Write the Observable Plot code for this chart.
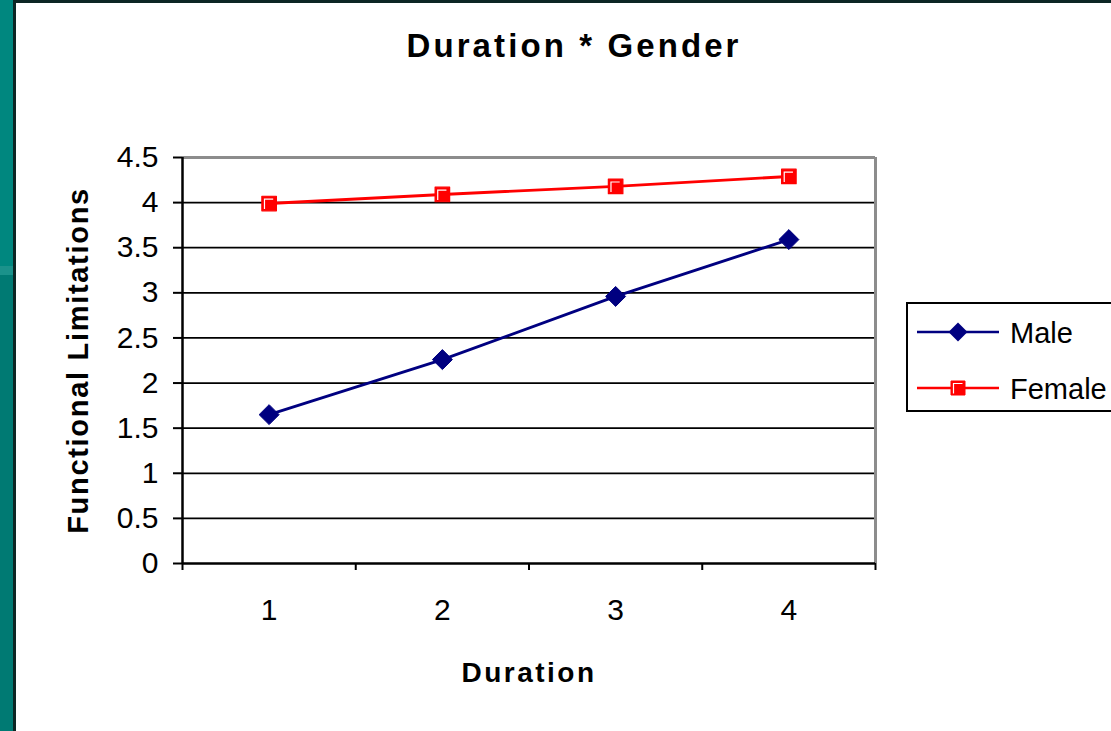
<!DOCTYPE html>
<html>
<head>
<meta charset="utf-8">
<script src="https://cdn.jsdelivr.net/npm/d3@7"></script>
<script src="https://cdn.jsdelivr.net/npm/@observablehq/plot@0.6"></script>
<style>
  html, body { margin: 0; padding: 0; background: #ffffff; }
  #page { position: relative; width: 1111px; height: 731px; overflow: hidden; background: #ffffff; }
  .strip-top { position: absolute; left: 0; top: 0; width: 13px; height: 266px; background: #00877f; }
  .strip-band { position: absolute; left: 0; top: 266px; width: 13px; height: 9px; background: #1b928b; }
  .strip-bottom { position: absolute; left: 0; top: 275px; width: 13px; height: 456px; background: #007a73; }
  .edge-left { position: absolute; left: 13px; top: 0; width: 3px; height: 731px; background: #0c2624; }
  .edge-top { position: absolute; left: 13px; top: 0; width: 1098px; height: 3px; background: #0c2624; }
  #chart { position: absolute; left: 16px; top: 3px; }
  #legend { position: absolute; left: 906px; top: 302px; width: 230px; height: 106px;
            border: 2px solid #000; background: #fff; }
</style>
</head>
<body>
<div id="page">
  <div class="strip-top"></div>
  <div class="strip-band"></div>
  <div class="strip-bottom"></div>
  <div class="edge-left"></div>
  <div class="edge-top"></div>
  <div id="chart"></div>
  <div id="legend"></div>
</div>
<script>
// ---- data ----
const durations = [1, 2, 3, 4];
const male = [1.65, 2.26, 2.96, 3.59];
const female = [3.99, 4.09, 4.18, 4.29];
const series = ["Male", "Female"];
const seriesColors = ["#000080", "#ff0000"];
const yTicks = [0, 0.5, 1, 1.5, 2, 2.5, 3, 3.5, 4, 4.5];
const bandEdges = [0.5, 1.5, 2.5, 3.5, 4.5];
const titleText = "Duration * Gender";
const xLabel = "Duration";
const yLabel = "Functional Limitations";

const rows = durations.flatMap((d, i) => [
  {duration: d, gender: "Male", value: male[i]},
  {duration: d, gender: "Female", value: female[i]}
]);
const maleRows = rows.filter(r => r.gender === "Male");
const femaleRows = rows.filter(r => r.gender === "Female");

// white "glint" inside the Excel-style square marker
const glint = {
  draw(context, size) {
    const w = Math.sqrt(size);
    context.moveTo(-w * 0.32, w * 0.38);
    context.lineTo(-w * 0.32, -w * 0.3);
    context.lineTo(w * 0.28, -w * 0.3);
  }
};

const font = "'Liberation Sans', Arial, sans-serif";

const chart = Plot.plot({
  width: 1095,
  height: 728,
  marginLeft: 166,
  marginRight: 236,
  marginTop: 154,
  marginBottom: 168,
  x: {type: "linear", domain: [0.5, 4.5]},
  y: {domain: [0, 4.5]},
  color: {domain: series, range: seriesColors},
  style: {fontFamily: font, background: "transparent", color: "#000", overflow: "visible"},
  marks: [
    Plot.ruleY(yTicks.filter(v => v > 0 && v < 4.5), {stroke: "#000", strokeWidth: 1.7}),
    Plot.ruleY([4.5], {stroke: "#8c8c8c", strokeWidth: 3}),
    Plot.ruleX([4.5], {stroke: "#8c8c8c", strokeWidth: 3}),
    Plot.ruleX([0.5], {stroke: "#000", strokeWidth: 2.5}),
    Plot.ruleY([0], {stroke: "#000", strokeWidth: 2.5}),
    Plot.axisY({ticks: yTicks, tickSize: 9, tickPadding: 15, fontSize: 30, strokeWidth: 2,
                tickFormat: d => String(d), label: null}),
    Plot.axisX({ticks: bandEdges, tickSize: 7, tickFormat: () => "", strokeWidth: 2, label: null}),
    Plot.axisX({ticks: durations, tickSize: 0, tickPadding: 35, fontSize: 30,
                tickFormat: d => String(d), label: null}),
    Plot.line(rows, {x: "duration", y: "value", z: "gender", stroke: "gender", strokeWidth: 2.9}),
    Plot.dot(maleRows, {x: "duration", y: "value", symbol: "diamond2", r: 9,
                        fill: "#000080", stroke: "#000080", strokeWidth: 1}),
    Plot.dot(femaleRows, {x: "duration", y: "value", symbol: "square", r: 8.2,
                          fill: "#ff0000", stroke: "#ff0000", strokeWidth: 1.2, strokeLinejoin: "round"}),
    Plot.dot(femaleRows, {x: "duration", y: "value", symbol: glint, r: 8.2,
                          fill: "none", stroke: "#ffffff", strokeWidth: 1.2}),
    Plot.text([titleText], {frameAnchor: "top", textAnchor: "middle", dx: 45, dy: -101,
                            lineAnchor: "bottom", fontSize: 33, fontWeight: "bold"}),
    Plot.text([xLabel], {frameAnchor: "bottom", textAnchor: "middle", dx: 0, dy: 118,
                         lineAnchor: "bottom", fontSize: 28, fontWeight: "bold"}),
    Plot.text([yLabel], {frameAnchor: "left", textAnchor: "middle", dx: -95, rotate: -90,
                         lineAnchor: "bottom", fontSize: 29, fontWeight: "bold"})
  ]
});
document.getElementById("chart").appendChild(chart);

// letter spacing to match the wide, spaced PowerPoint rendering
const spacing = {[titleText]: 3.1, [xLabel]: 2.5, [yLabel]: 1.7};
chart.querySelectorAll("text").forEach(t => {
  if (spacing[t.textContent] != null) t.style.letterSpacing = spacing[t.textContent] + "px";
});

// ---- legend ----
const ns = "http://www.w3.org/2000/svg";
const lg = document.createElementNS(ns, "svg");
lg.setAttribute("width", 230);
lg.setAttribute("height", 106);
lg.style.fontFamily = font;
const legendRows = [
  {name: series[0], color: seriesColors[0], y: 28, sym: "diamond"},
  {name: series[1], color: seriesColors[1], y: 84, sym: "square"}
];
legendRows.forEach(r => {
  const line = document.createElementNS(ns, "line");
  line.setAttribute("x1", 9); line.setAttribute("x2", 91);
  line.setAttribute("y1", r.y); line.setAttribute("y2", r.y);
  line.setAttribute("stroke", r.color); line.setAttribute("stroke-width", 2.6);
  lg.appendChild(line);
  const p = document.createElementNS(ns, "path");
  if (r.sym === "diamond") {
    p.setAttribute("d", `M50,${r.y - 9.5}L59.5,${r.y}L50,${r.y + 9.5}L40.5,${r.y}Z`);
    p.setAttribute("fill", r.color);
    lg.appendChild(p);
  } else {
    p.setAttribute("d", `M43,${r.y - 7}h14v14h-14Z`);
    p.setAttribute("fill", r.color);
    p.setAttribute("stroke", r.color);
    p.setAttribute("stroke-linejoin", "round");
    lg.appendChild(p);
    const g = document.createElementNS(ns, "path");
    g.setAttribute("d", `M45.5,${r.y + 5.5}V${r.y - 4.5}H54.5`);
    g.setAttribute("fill", "none");
    g.setAttribute("stroke", "#fff");
    g.setAttribute("stroke-width", 1.2);
    lg.appendChild(g);
  }
  const t = document.createElementNS(ns, "text");
  t.setAttribute("x", 102);
  t.setAttribute("y", r.y + 11);
  t.setAttribute("font-size", 29);
  t.setAttribute("fill", "#000");
  t.textContent = r.name;
  lg.appendChild(t);
});
document.getElementById("legend").appendChild(lg);
</script>
</body>
</html>
